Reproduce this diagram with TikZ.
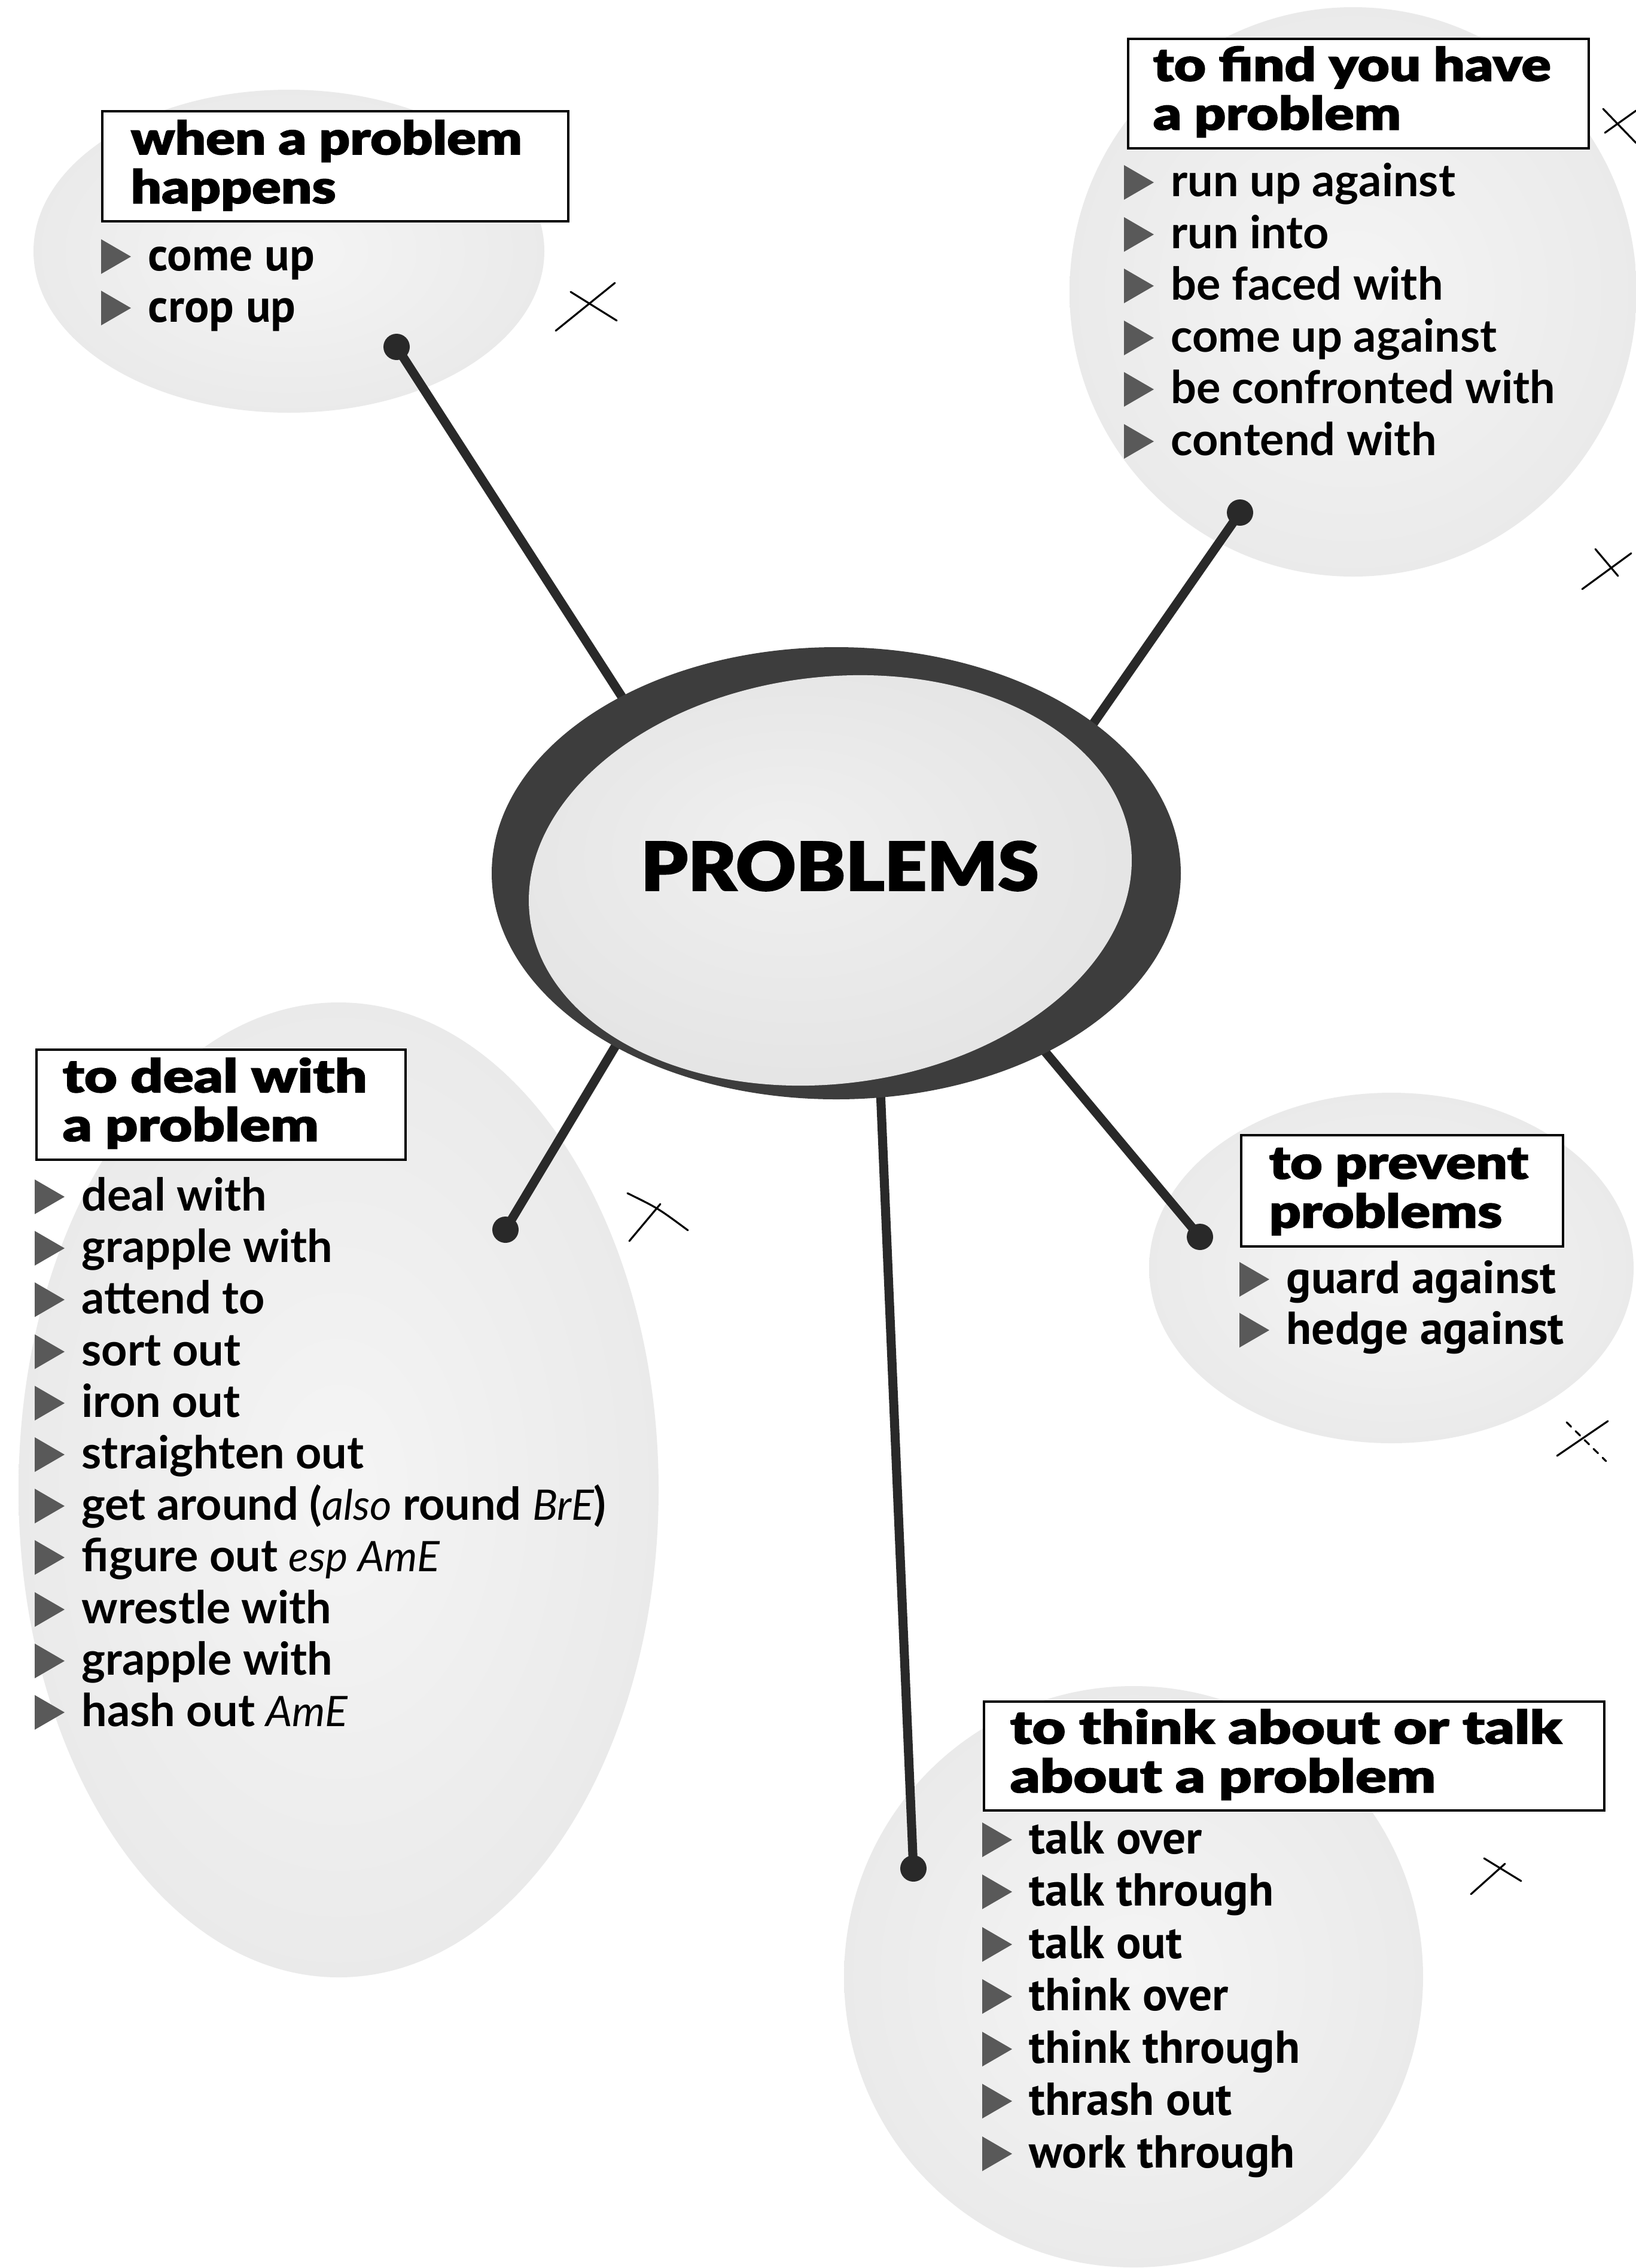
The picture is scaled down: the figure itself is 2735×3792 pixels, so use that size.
\documentclass[tikz,border=0pt]{standalone}
\usepackage{fontspec}
\usepackage{graphicx}
\setmainfont{Lato}
\newfontfamily\blk{Lato Black}[AutoFakeBold=1.6]
\newfontfamily\pts{PT Sans}
\usetikzlibrary{shapes.geometric}
\definecolor{linecol}{gray}{0.16}
\definecolor{bulcol}{gray}{0.35}
\definecolor{ringcol}{gray}{0.24}
\pgfdeclareradialshading{blob}{\pgfpoint{0bp}{0bp}}{color(0bp)=(black!4); color(30bp)=(black!9); color(44bp)=(black!22); color(48bp)=(black!30); color(50bp)=(black!16)}
\pgfdeclareradialshading{corefill}{\pgfpoint{-4bp}{6bp}}{color(0bp)=(black!6); color(30bp)=(black!11); color(50bp)=(black!20)}
\newcommand{\bitem}[5]{%
  \node[#4] (#1) at (#2,#3) {#5};
  \fill[bulcol] (#2-78,#3-52) -- (#2-78,#3+6) -- (#2-28,#3-23) -- cycle;}
\newcommand{\ttlines}[3]{\scalebox{#1}[1]{\begin{tabular}{@{}l@{}}#2\\#3\end{tabular}}}
\newcommand{\itl}[1]{{\mdseries\itshape\fontsize{20}{26}\selectfont #1}}
\begin{document}
\begin{tikzpicture}[x=0.1mm,y=-0.1mm,
  itemB/.style={anchor=base west, inner sep=0pt, font=\bfseries\fontsize{21.5}{26}\selectfont},
  itemA/.style={anchor=base west, inner sep=0pt, font=\pts\bfseries\fontsize{22}{26}\selectfont},
  ttl/.style={anchor=west, inner sep=0pt, align=left, font=\blk\bfseries\fontsize{22}{22.5}\selectfont},
  tbox/.style={draw=black, line width=1.1pt, fill=white, anchor=north west, inner sep=0pt},
  dot/.style={circle, fill=linecol, inner sep=0pt, minimum size=4.4mm},
  conn/.style={draw=linecol, line width=4.3pt},
  pencil/.style={draw=black, line width=0.9pt, line cap=round}]
\useasboundingbox (0,0) rectangle (2735,3792);
\fill[white] (0,0) rectangle (2735,3792);
% blobs
\shade[shading=blob] (483,420) ellipse [x radius=427, y radius=270];
\shade[shading=blob] (2262,488) ellipse [x radius=474, y radius=476];
\shade[shading=blob] (566,2491) ellipse [x radius=535, y radius=815];
\shade[shading=blob] (2326,2120) ellipse [x radius=405, y radius=293];
\shade[shading=blob] (1895,3305) ellipse [x radius=484, y radius=486];
% connector ends
\coordinate (e1) at (1077,1223);
\coordinate (e2) at (1799,1251);
\coordinate (e3) at (1054,1707);
\coordinate (e4) at (1710,1714);
\coordinate (e5) at (1470,1778);
\node[dot] (d1) at (663,580) {};
\node[dot] (d2) at (2073,857) {};
\node[dot] (d3) at (845,2056) {};
\node[dot] (d4) at (2006,2068) {};
\node[dot] (d5) at (1527,3124) {};
\draw[conn] (d1.center) -- (e1);
\draw[conn] (d2.center) -- (e2);
\draw[conn] (d3.center) -- (e3);
\draw[conn] (d4.center) -- (e4);
\draw[conn] (d5.center) -- (e5);
% central ellipse
\node[ellipse, fill=ringcol, inner sep=0pt, minimum width=115.2mm, minimum height=75.6mm] (core) at (1398,1460) {};
\shade[shading=corefill, rotate around={7:(1388,1472)}] (1388,1472) ellipse [x radius=506, y radius=340];
\node[anchor=base, inner sep=0pt, font=\blk\bfseries\fontsize{32}{32}\selectfont] (ptext) at (1404,1489) {\scalebox{1.1}[1]{PROBLEMS}};
% group A
\node[tbox, minimum width=77.9mm, minimum height=18.4mm] (boxA) at (169,184) {};
\node[ttl] (tA) at (218,282) {\ttlines{1.17}{when a problem}{happens}};
\bitem{a1}{247}{452}{itemA}{come up}
\bitem{a2}{247}{538}{itemA}{crop up}
% group B
\node[tbox, minimum width=77mm, minimum height=18.3mm] (boxB) at (1884,63) {};
\node[ttl] (tB) at (1927,159) {\ttlines{1.19}{to find you have}{a problem}};
\bitem{b1}{1957}{328}{itemB}{run up against}
\bitem{b2}{1957}{415}{itemB}{run into}
\bitem{b3}{1957}{501}{itemB}{be faced with}
\bitem{b4}{1957}{588}{itemB}{come up against}
\bitem{b5}{1957}{674}{itemB}{be confronted with}
\bitem{b6}{1957}{761}{itemB}{contend with}
% group C
\node[tbox, minimum width=61.7mm, minimum height=18.4mm] (boxC) at (59,1753) {};
\node[ttl] (tC) at (104,1850) {\ttlines{1.23}{to deal with}{a problem}};
\bitem{c1}{136}{2024}{itemB}{deal with}
\bitem{c2}{136}{2110}{itemB}{grapple with}
\bitem{c3}{136}{2196}{itemB}{attend to}
\bitem{c4}{136}{2283}{itemB}{sort out}
\bitem{c5}{136}{2369}{itemB}{iron out}
\bitem{c6}{136}{2455}{itemB}{straighten out}
\bitem{c7}{136}{2541}{itemB}{get around (\itl{also} round \itl{BrE})}
\bitem{c8}{136}{2627}{itemB}{figure out \itl{esp AmE}}
\bitem{c9}{136}{2714}{itemB}{wrestle with}
\bitem{c10}{136}{2800}{itemB}{grapple with}
\bitem{c11}{136}{2886}{itemB}{hash out \itl{AmE}}
% group D
\node[tbox, minimum width=53.8mm, minimum height=18.6mm] (boxD) at (2073,1896) {};
\node[ttl] (tD) at (2121,1996) {\ttlines{1.2}{to prevent}{problems}};
\bitem{dd1}{2150}{2162}{itemA}{guard against}
\bitem{dd2}{2150}{2247}{itemA}{hedge against}
% group E
\node[tbox, minimum width=103.7mm, minimum height=18.2mm] (boxE) at (1643,2843) {};
\node[ttl] (tE) at (1688,2939) {\ttlines{1.25}{to think about or talk}{about a problem}};
\bitem{e1i}{1720}{3099}{itemA}{talk over}
\bitem{e2i}{1720}{3186}{itemA}{talk through}
\bitem{e3i}{1720}{3274}{itemA}{talk out}
\bitem{e4i}{1720}{3361}{itemA}{think over}
\bitem{e5i}{1720}{3449}{itemA}{think through}
\bitem{e6i}{1720}{3536}{itemA}{thrash out}
\bitem{e7i}{1720}{3624}{itemA}{work through}
% pencil marks
\draw[pencil] (929,553) -- (1028,473);
\draw[pencil] (954,488) -- (1031,536);
\draw[pencil] (2680,182) -- (2735,239);
\draw[pencil] (2683,222) -- (2735,185);
\draw[pencil] (2645,985) -- (2727,925);
\draw[pencil] (2667,918) -- (2705,963);
\draw[pencil] (1049,1995) .. controls (1100,2020) .. (1150,2057);
\draw[pencil] (1052,2075) -- (1104,2013);
\draw[pencil] (2603,2434) -- (2688,2376);
\draw[pencil, dashed] (2619,2378) -- (2685,2443);
\draw[pencil] (2459,3167) -- (2516,3116);
\draw[pencil] (2481,3107) -- (2543,3145);
\end{tikzpicture}
\end{document}
